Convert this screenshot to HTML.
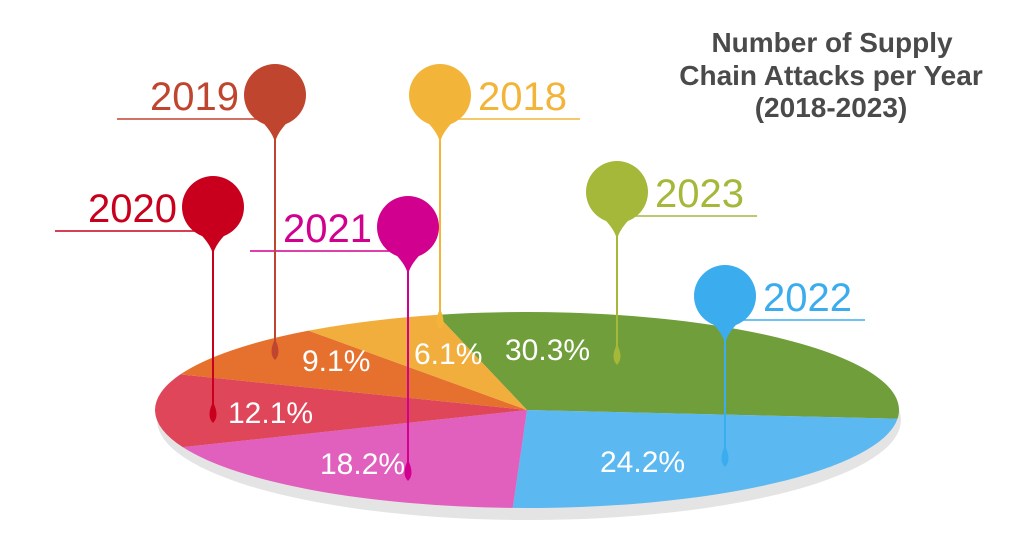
<!DOCTYPE html>
<html><head><meta charset="utf-8"><style>
body{margin:0;background:#fff;}
svg{display:block;font-family:"Liberation Sans",sans-serif;}
</style></head><body>
<svg id="chart" width="1024" height="537" viewBox="0 0 1024 537">
<g font-weight="bold" font-size="28" fill="#4a4a4a" text-anchor="middle">
<text x="832" y="52">Number of Supply</text>
<text x="831" y="85">Chain Attacks per Year</text>
<text x="831" y="117">(2018-2023)</text>
</g>
<ellipse cx="529" cy="420" rx="372" ry="100" fill="#e4e4e4"/>
<g id="slices"></g>
<g id="pins"></g>
</svg>
<script>
const years = ["2023","2022","2021","2020","2019","2018"];
const values = [30.3, 24.2, 18.2, 12.1, 9.1, 6.1];
const labels = ["30.3%","24.2%","18.2%","12.1%","9.1%","6.1%"];
const colors = ["#6f9e3a","#5bb8f0","#e15fbd","#e0465a","#e6712e","#f2ae3c"];
const pinColors = ["#a5b83a","#3badef","#d2008f","#c8001e","#c0452f","#f2b53a"];
const NS="http://www.w3.org/2000/svg";
const cx=527, cy=410, rx=372, ry=98;
const startDeg=-104;
const total=values.reduce((a,b)=>a+b,0);
function pt(deg,f){const a=deg*Math.PI/180;return [cx+rx*f*Math.cos(a), cy+ry*f*Math.sin(a)];}
const sg=document.getElementById('slices');
let acc=startDeg;
values.forEach((v,i)=>{
  const sweep=v/total*360, a0=acc, a1=acc+sweep;
  const p0=pt(a0,1), p1=pt(a1,1);
  const p=document.createElementNS(NS,'path');
  p.setAttribute('d',`M${cx},${cy} L${p0[0]},${p0[1]} A${rx},${ry} 0 ${sweep>180?1:0} 1 ${p1[0]},${p1[1]} Z`);
  p.setAttribute('fill',colors[i]);
  
  
  sg.appendChild(p);
  acc=a1;
});
const pinPos={"2023":[617,192,360,"R"],"2022":[725,296,462,"R"],"2021":[408,227,476,"L"],"2020":[213,207,418,"L"],"2019":[275,95,355,"L"],"2018":[440,95,325,"R"]};
const pctPos={"2023":[505,360],"2022":[600,472],"2021":[320,474],"2020":[228,423],"2019":[302,371],"2018":[414,364]};
const pg=document.getElementById('pins');
years.forEach((y,i)=>{
  const [px,py,dy,side]=pinPos[y];
  const c=pinColors[i];
  const g=document.createElementNS(NS,'g');
  
  
  const ln=document.createElementNS(NS,'line');
  ln.setAttribute('x1',px);ln.setAttribute('x2',px);ln.setAttribute('y1',py);ln.setAttribute('y2',dy);
  ln.setAttribute('stroke',c);ln.setAttribute('stroke-width','2');
  g.appendChild(ln);
  const head=document.createElementNS(NS,'path');
  head.setAttribute('d',`M${px-20},${py+20} Q${px-2},${py+36} ${px},${py+48} Q${px+2},${py+36} ${px+20},${py+20} Z`);
  head.setAttribute('fill',c);
  g.appendChild(head);
  const ci=document.createElementNS(NS,'circle');
  ci.setAttribute('cx',px);ci.setAttribute('cy',py);ci.setAttribute('r',31);ci.setAttribute('fill',c);
  g.appendChild(ci);
  const drop=document.createElementNS(NS,'path');
  drop.setAttribute('d',`M${px},${dy-16} Q${px+7},${dy-2} ${px},${dy+5} Q${px-7},${dy-2} ${px},${dy-16} Z`);
  drop.setAttribute('fill',c);
  g.appendChild(drop);
  const ul=document.createElementNS(NS,'line');
  const ux1= side==="L"? px-158 : px;
  const ux2= side==="L"? px : px+140;
  ul.setAttribute('x1',ux1);ul.setAttribute('x2',ux2);ul.setAttribute('y1',py+24);ul.setAttribute('y2',py+24);
  ul.setAttribute('stroke',c);ul.setAttribute('stroke-width','1.5');
  g.appendChild(ul);
  const t=document.createElementNS(NS,'text');
  t.textContent=y;
  
  
  t.setAttribute('x', side==="L"? px-36 : px+38);
  t.setAttribute('y',py+15);
  t.setAttribute('text-anchor', side==="L"?'end':'start');
  t.setAttribute('font-size','40');
  t.setAttribute('fill',c);
  g.appendChild(t);
  pg.appendChild(g);
  const pt2=document.createElementNS(NS,'text');
  pt2.textContent=labels[i];
  
  
  pt2.setAttribute('x',pctPos[y][0]);pt2.setAttribute('y',pctPos[y][1]);
  pt2.setAttribute('font-size','30');pt2.setAttribute('fill','#fff');
  pg.appendChild(pt2);
});
</script>
</body></html>
